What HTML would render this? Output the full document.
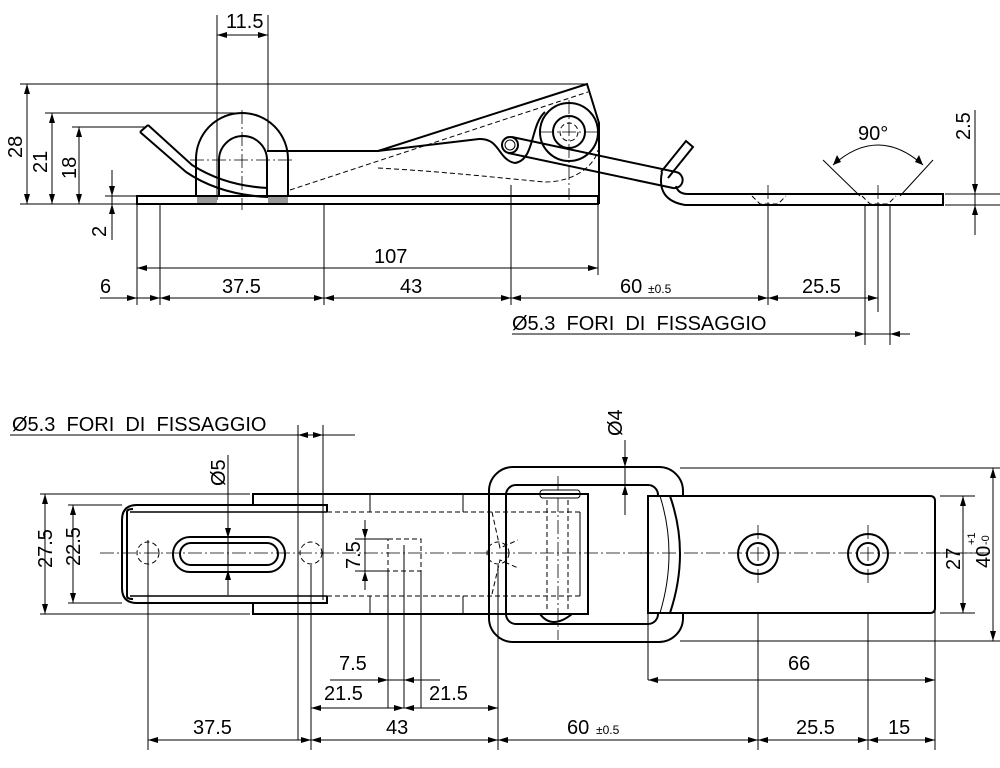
<!DOCTYPE html>
<html><head><meta charset="utf-8"><style>
html,body{margin:0;padding:0;background:#fff}
svg{display:block}
text{font-family:"Liberation Sans Narrow","Liberation Sans",sans-serif;font-size:20px;fill:#000}
.h{stroke:#000;stroke-width:2;fill:none}
.t{stroke:#000;stroke-width:1;fill:none}
.d{stroke:#000;stroke-width:1;fill:none;stroke-dasharray:5 3}
.c{stroke:#000;stroke-width:0.8;fill:none;stroke-dasharray:14 3 2 3}
.a{stroke:#000;stroke-width:1;fill:none;marker-start:url(#m);marker-end:url(#m)}
</style></head><body>
<svg width="1000" height="768" viewBox="0 0 1000 768" xmlns="http://www.w3.org/2000/svg">
<defs><marker id="m" viewBox="0 0 10 6" refX="10" refY="3" markerWidth="10" markerHeight="6" orient="auto-start-reverse" markerUnits="userSpaceOnUse"><path d="M0,0 L10,3 L0,6 z" fill="#000"/></marker></defs>

<!-- ===== TOP VIEW ===== -->
<g class="t">
<line x1="217" y1="15" x2="217" y2="200"/><line x1="268" y1="15" x2="268" y2="150"/>
<line x1="20" y1="84" x2="588" y2="84"/>
<line x1="45" y1="113" x2="240" y2="113"/>
<line x1="72" y1="127" x2="145" y2="127"/>
<line x1="105" y1="196" x2="137" y2="196"/><line x1="20" y1="204" x2="137" y2="204"/>
<line x1="137" y1="204" x2="137" y2="305"/><line x1="160" y1="204" x2="160" y2="305"/>
<line x1="324" y1="204" x2="324" y2="305"/><line x1="598" y1="204" x2="598" y2="275"/>
<line x1="511" y1="185" x2="511" y2="305"/><line x1="768" y1="205" x2="768" y2="305"/>
<line x1="878" y1="205" x2="878" y2="312"/><line x1="865" y1="205" x2="865" y2="345"/><line x1="890" y1="205" x2="890" y2="345"/>
<line x1="945" y1="194" x2="1000" y2="194"/><line x1="945" y1="205" x2="1000" y2="205"/>
</g>
<line class="a" x1="217" y1="35" x2="268" y2="35"/><text x="226" y="28">11.5</text>
<line class="a" x1="27" y1="84" x2="27" y2="204"/><text transform="translate(22,158) rotate(-90)">28</text>
<line class="a" x1="52" y1="113" x2="52" y2="204"/><text transform="translate(47,173) rotate(-90)">21</text>
<line class="a" x1="79" y1="127" x2="79" y2="204"/><text transform="translate(76,179) rotate(-90)">18</text>
<line class="t" x1="112" y1="170" x2="112" y2="240"/><path d="M109,186 L112,196 L115,186z M109,214 L112,204 L115,214z"/><text transform="translate(106,237) rotate(-90)">2</text>
<line class="a" x1="137" y1="268" x2="598" y2="268"/><text x="374" y="263">107</text>
<line class="t" x1="100" y1="298" x2="511" y2="298"/>
<path d="M137,298 l-10,-3 v6z M160,298 l10,-3 v6z M160,298 l-10,-3 v6z M324,298 l-10,-3 v6z M324,298 l10,-3 v6z M511,298 l-10,-3 v6z"/>
<text x="100" y="293">6</text><text x="222" y="293">37.5</text><text x="400" y="293">43</text>
<line class="a" x1="511" y1="298" x2="768" y2="298"/><text x="620" y="293">60</text><text x="648" y="293" style="font-size:12px">±0.5</text>
<line class="t" x1="768" y1="298" x2="878" y2="298"/><path d="M768,298 l10,-3 v6z M878,298 l-10,-3 v6z"/><text x="802" y="293">25.5</text>
<text x="512" y="330">Ø5.3&#160; FORI&#160; DI&#160; FISSAGGIO</text>
<line class="t" x1="512" y1="334" x2="910" y2="334"/><path d="M865,334 l-10,-3 v6z M890,334 l10,-3 v6z"/>
<line class="t" x1="975" y1="110" x2="975" y2="235"/><path d="M972,184 L975,194 L978,184z M972,215 L975,205 L978,215z"/><text transform="translate(970,140) rotate(-90)">2.5</text>
<line class="t" x1="823" y1="160" x2="860" y2="196"/><line class="t" x1="933" y1="160" x2="900" y2="196"/>
<path class="t" d="M833,165 Q878,125 923,165"/><path d="M833,165 l4,-10 l4,7z M923,165 l-4,-10 l-4,7z"/>
<text x="858" y="140">90°</text>
<rect class="h" x="137" y="196" width="461" height="8"/>
<rect x="197" y="197" width="20" height="6" fill="#999"/><rect x="268" y="197" width="20" height="6" fill="#999"/>
<path class="h" d="M196,196 V159 A46,46 0 0 1 288,159 V196"/>
<path class="h" d="M219,196 V160 A24,24 0 0 1 267,160 V196"/>
<line class="c" x1="242" y1="110" x2="242" y2="210"/><line class="c" x1="190" y1="160" x2="295" y2="160"/>
<path class="h" d="M267,151 H378 L587,84 L599,123 V204"/>
<path class="h" d="M378,151 L479,139 C500,138 498,160 515,163 C535,160 530,125 545,112"/>
<path class="d" d="M290,190 L588,92 M378,168 C450,172 500,178 545,182 C575,182 595,165 598,150 M288,196 H598"/>
<circle class="h" cx="569" cy="132" r="29"/><circle class="h" cx="569" cy="132" r="16"/><circle class="d" cx="569" cy="132" r="9"/>
<line class="c" x1="569" y1="100" x2="569" y2="200"/><line class="c" x1="540" y1="132" x2="600" y2="132"/>
<path class="h" d="M140,132 L186,172 Q220,195 268,197"/>
<path class="h" d="M148,125 L192,165 Q225,186 268,188"/>
<line class="h" x1="140" y1="132" x2="148" y2="125"/>
<circle class="h" cx="510" cy="145" r="8"/><circle class="t" cx="510" cy="145" r="5"/>
<path class="h" d="M512,137 L676,172 A8,8 0 0 1 673,188 L508,153"/>
<path class="h" d="M661,172 L686,141 L693,147 L668,178"/>
<path class="h" d="M662,172 Q656,200 685,205 H943 V194 H688 Q678,194 676,186"/>
<path class="d" d="M752,196 L760,204 H778 L786,196 M862,196 L870,204 H888 L896,196"/>
<line class="c" x1="768" y1="185" x2="768" y2="215"/><line class="c" x1="878" y1="185" x2="878" y2="215"/>

<!-- ===== BOTTOM VIEW ===== -->
<text x="12" y="431">Ø5.3&#160; FORI&#160; DI&#160; FISSAGGIO</text>
<line class="t" x1="10" y1="435" x2="355" y2="435"/><path d="M298,435 l10,-3 v6z M323,435 l-10,-3 v6z"/>
<line class="t" x1="298" y1="425" x2="298" y2="740"/><line class="t" x1="323" y1="425" x2="323" y2="600"/>
<line class="c" x1="100" y1="553" x2="990" y2="553"/>
<g class="t">
<line x1="40" y1="494" x2="250" y2="494"/><line x1="40" y1="614" x2="250" y2="614"/>
<line x1="68" y1="505" x2="122" y2="505"/><line x1="68" y1="603" x2="122" y2="603"/>
<line x1="940" y1="496" x2="975" y2="496"/><line x1="940" y1="613" x2="975" y2="613"/>
<line x1="680" y1="468" x2="1000" y2="468"/><line x1="680" y1="641" x2="1000" y2="641"/>
<line x1="148" y1="540" x2="148" y2="750"/><line x1="311" y1="565" x2="311" y2="750"/>
<line x1="498" y1="565" x2="498" y2="750"/><line x1="758" y1="575" x2="758" y2="750"/>
<line x1="868" y1="575" x2="868" y2="750"/><line x1="935" y1="610" x2="935" y2="750"/>
<line x1="648" y1="610" x2="648" y2="680"/>
<line x1="388" y1="571" x2="388" y2="708"/><line x1="421" y1="571" x2="421" y2="708"/><line x1="404" y1="545" x2="404" y2="708"/>
<line x1="355" y1="539" x2="388" y2="539"/><line x1="355" y1="571" x2="388" y2="571"/>
</g>
<line class="a" x1="45" y1="494" x2="45" y2="614"/><text transform="translate(52,568) rotate(-90)">27.5</text>
<line class="a" x1="73" y1="505" x2="73" y2="603"/><text transform="translate(80,566) rotate(-90)">22.5</text>
<line class="a" x1="963" y1="496" x2="963" y2="613"/><text transform="translate(960,570) rotate(-90)">27</text>
<line class="a" x1="993" y1="468" x2="993" y2="641"/><text transform="translate(990,568) rotate(-90)">40</text><text transform="translate(975,545) rotate(-90)" style="font-size:11px">+1</text><text transform="translate(989,545) rotate(-90)" style="font-size:11px">-0</text>
<line class="t" x1="228" y1="455" x2="228" y2="595"/><path d="M225,528 l3,10 l3,-10z M225,580 l3,-10 l3,10z"/><text transform="translate(225,486) rotate(-90)">Ø5</text>
<line class="t" x1="625" y1="440" x2="625" y2="515"/><path d="M622,457 l3,10 l3,-10z M622,495 l3,-10 l3,10z"/><text transform="translate(622,436) rotate(-90)">Ø4</text>
<line class="t" x1="365" y1="520" x2="365" y2="590"/><path d="M362,529 l3,10 l3,-10z M362,581 l3,-10 l3,10z"/><text transform="translate(360,569) rotate(-90)">7.5</text>
<line class="t" x1="330" y1="680" x2="440" y2="680"/><path d="M388,680 l-10,-3 v6z M404,680 l10,-3 v6z"/><text x="339" y="670">7.5</text>
<line class="a" x1="311" y1="708" x2="404" y2="708"/><line class="a" x1="404" y1="708" x2="498" y2="708"/>
<text x="324" y="700">21.5</text><text x="429" y="700">21.5</text>
<line class="a" x1="648" y1="680" x2="935" y2="680"/><text x="788" y="670">66</text>
<line class="a" x1="148" y1="740" x2="311" y2="740"/><text x="193" y="734">37.5</text>
<line class="a" x1="311" y1="740" x2="498" y2="740"/><text x="386" y="734">43</text>
<line class="a" x1="498" y1="740" x2="758" y2="740"/><text x="567" y="734">60</text><text x="596" y="734" style="font-size:12px">±0.5</text>
<line class="a" x1="758" y1="740" x2="868" y2="740"/><text x="796" y="734">25.5</text>
<line class="a" x1="868" y1="740" x2="935" y2="740"/><text x="888" y="734">15</text>
<path class="h" d="M253,505 V494 H588 V614 H253 V603 H137 Q122,603 122,588 V520 Q122,505 137,505 Z"/>
<path class="h" d="M127,512 Q127,509 133,509 M127,596 Q127,599 133,599 M127,512 V596"/>
<path class="h" d="M253,505 H327 V512 M253,603 H327 V596"/>
<path class="d" d="M327,512 H580 M327,596 H580"/>
<path class="h" d="M130,512 H327 M130,596 H327" style="stroke-width:1.5"/>
<line class="h" x1="370" y1="494" x2="370" y2="512" style="stroke-width:1"/><line class="h" x1="370" y1="596" x2="370" y2="614" style="stroke-width:1"/>
<line class="t" x1="463" y1="494" x2="463" y2="512"/><line class="t" x1="463" y1="596" x2="463" y2="614"/>
<line class="t" x1="580" y1="512" x2="580" y2="596"/>
<rect class="h" x="173" y="537" width="112" height="35" rx="17"/>
<rect class="h" x="180" y="543" width="98" height="22" rx="11"/>
<circle class="d" cx="148" cy="553" r="11"/><circle class="d" cx="311" cy="553" r="11"/><circle class="d" cx="498" cy="553" r="11"/>
<rect class="d" x="388" y="539" width="33" height="32"/>
<path class="d" d="M492,512 L500,548 L518,540 M492,594 L500,560 L518,568"/>
<rect class="h" x="489" y="467" width="194" height="175" rx="24"/>
<rect class="h" x="506" y="485" width="152" height="139" rx="10"/>
<rect x="540" y="490" width="40" height="8" rx="3" class="t"/>
<line class="d" x1="547" y1="500" x2="547" y2="610"/><line class="d" x1="568" y1="500" x2="568" y2="610"/>
<path class="h" d="M540,614 Q552,630 572,614"/>
<line class="c" x1="558" y1="476" x2="558" y2="640"/>
<path class="h" d="M648,496 H930 Q935,496 935,501 V608 Q935,613 930,613 H648 Z" style="fill:#fff"/>
<path class="h" d="M670,496 Q690,553 670,613"/>
<path class="h" d="M660,496 Q678,553 660,613" style="stroke-width:1"/>
<circle class="h" cx="758" cy="554" r="20"/><circle class="h" cx="758" cy="554" r="11"/>
<circle class="h" cx="868" cy="554" r="20"/><circle class="h" cx="868" cy="554" r="11"/>
<line class="c" x1="758" y1="525" x2="758" y2="585"/><line class="c" x1="868" y1="525" x2="868" y2="585"/>
<line class="c" x1="640" y1="553" x2="990" y2="553"/>
</svg>
</body></html>
